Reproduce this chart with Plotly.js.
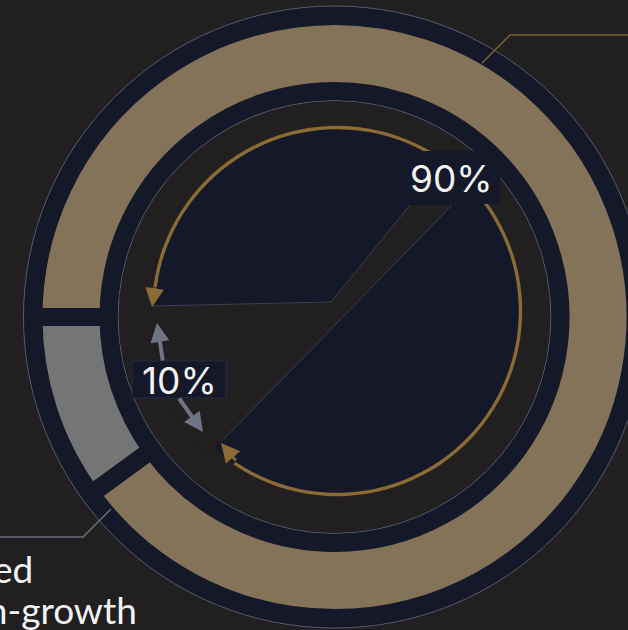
<!DOCTYPE html>
<html>
<head>
<meta charset="utf-8">
<script src="https://cdn.plot.ly/plotly-3.0.1.min.js"></script>
<style>
  html, body { margin: 0; padding: 0; overflow: hidden; background: #211f1f; width: 628px; height: 630px; }
  #chart { width: 700px; height: 700px; }
</style>
</head>
<body>
<div id="chart"></div>
<script>
// ---------- data ----------
const segmentLabels = ['Paid out', 'Reinvested for long-term-growth'];
const segmentValues = [90, 10];
const segmentPctText = ['90%', '10%'];
const leftLabelLines = ['Reinvested', 'for long-term-growth'];

// ---------- styles / geometry (px) ----------
const W = 700, H = 700;
const BG = '#211f1f', NAVY = '#151829', GOLD = '#837358', GREY = '#767576';
const ARC_GOLD = '#8a6b36', ARROW_GREY = '#6f7384', THIN = '#585b6d', WHITE = '#f3f3f3';
const outerC = [334.5, 317];
const innerC = [337, 311];

function dom(c, r) {
  return { x: [(c[0] - r) / W, (c[0] + r) / W], y: [(H - c[1] - r) / H, (H - c[1] + r) / H] };
}
function circ(c, r, fill, line, layer) {
  return { type: 'circle', xref: 'x', yref: 'y', x0: c[0] - r, x1: c[0] + r, y0: c[1] - r, y1: c[1] + r,
           fillcolor: fill, line: line, layer: layer };
}

const arcStart = 277.5, arcEnd = 574;   // compass degrees of the gold arc decoration

const traces = [
  { type: 'scatter', x: [], y: [], hoverinfo: 'skip', showlegend: false },
  { // outer ring
    type: 'pie', labels: segmentLabels, values: segmentValues, sort: false, direction: 'clockwise',
    rotation: 270, hole: 226 / 301, domain: dom(outerC, 301),
    marker: { colors: [GOLD, GREY], line: { color: NAVY, width: 18 } },
    textinfo: 'none', hoverinfo: 'skip', showlegend: false
  },
  { // inner pie
    type: 'pie', labels: segmentLabels, values: segmentValues, sort: false, direction: 'clockwise',
    rotation: 258, domain: dom(innerC, 184),
    marker: { colors: [NAVY, BG], line: { width: 0 } },
    textinfo: 'none', hoverinfo: 'skip', showlegend: false
  },
  { // gold arc around the 90% part
    type: 'pie', labels: ['arc', 'gap'], values: [arcEnd - arcStart, 360 - (arcEnd - arcStart)], sort: false,
    direction: 'clockwise', rotation: arcStart, hole: 181.8 / 185.2, domain: dom(innerC, 185.2),
    marker: { colors: [ARC_GOLD, 'rgba(0,0,0,0)'], line: { width: 0 } },
    textinfo: 'none', hoverinfo: 'skip', showlegend: false
  }
];

const shapes = [
  circ(outerC, 311, NAVY, { color: THIN, width: 1 }, 'below'),
  circ(outerC, 216.5, BG, { color: THIN, width: 1 }, 'below'),
  { type: 'path', xref: 'x', yref: 'y', layer: 'above', fillcolor: BG, line: { width: 0 },
    path: 'M331,302 L410,205 L452,205 L222,441 L205,455 L149,379 L149,306 Z' },
  { type: 'path', xref: 'x', yref: 'y', layer: 'above', line: { color: '#3c3f50', width: 1 },
    path: 'M152,306 L331,302 L410,205' },
  { type: 'path', xref: 'x', yref: 'y', layer: 'above', line: { color: '#3c3f50', width: 1 },
    path: 'M452,205 L222,441' },
  { type: 'rect', xref: 'x', yref: 'y', layer: 'above', x0: 402, x1: 500, y0: 151, y1: 204,
    fillcolor: NAVY, line: { width: 0 } },
  { type: 'rect', xref: 'x', yref: 'y', layer: 'above', x0: 132, x1: 226, y0: 361, y1: 398,
    fillcolor: NAVY, line: { color: '#262a3c', width: 1 } },
  { type: 'path', xref: 'x', yref: 'y', layer: 'above', line: { color: '#7a6232', width: 1.5 },
    path: 'M482,63 L510,35 L700,35' },
  { type: 'path', xref: 'x', yref: 'y', layer: 'above', line: { color: '#6b6e7e', width: 1.5 },
    path: 'M111,509 L83,537 L0,537' }
];

function arrow(tip, tail, color, width, size) {
  return { xref: 'x', yref: 'y', axref: 'x', ayref: 'y', x: tip[0], y: tip[1], ax: tail[0], ay: tail[1],
           text: '', showarrow: true, arrowhead: 2, arrowcolor: color, arrowwidth: width, arrowsize: size,
           standoff: 0, startstandoff: 0 };
}

const pctFont = { family: 'Inter, sans-serif', size: 37, color: WHITE };
const labFont = { family: 'Lato, sans-serif', size: 37, color: WHITE };

const annotations = [
  arrow([152, 307], [155, 286], ARC_GOLD, 3, 1.25),
  arrow([221, 443], [237, 462], ARC_GOLD, 3, 1.25),
  arrow([157, 323], [163, 362], ARROW_GREY, 4, 0.95),
  arrow([203, 432], [178, 397], ARROW_GREY, 4, 0.95),
  { xref: 'x', yref: 'y', x: 451, y: 178, text: segmentPctText[0], showarrow: false, font: pctFont,
    xanchor: 'center', yanchor: 'middle' },
  { xref: 'x', yref: 'y', x: 179, y: 380, text: segmentPctText[1], showarrow: false, font: pctFont,
    xanchor: 'center', yanchor: 'middle' },
  { xref: 'x', yref: 'y', x: 34, y: 568, text: leftLabelLines[0], showarrow: false, font: labFont,
    xanchor: 'right', yanchor: 'middle', borderpad: 0 },
  { xref: 'x', yref: 'y', x: 138, y: 609, text: leftLabelLines[1], showarrow: false, font: labFont,
    xanchor: 'right', yanchor: 'middle', borderpad: 0 }
];

const layout = {
  width: W, height: H, margin: { l: 0, r: 0, t: 0, b: 0 },
  paper_bgcolor: BG, plot_bgcolor: 'rgba(0,0,0,0)', showlegend: false,
  xaxis: { range: [0, W], visible: false, fixedrange: true },
  yaxis: { range: [H, 0], visible: false, fixedrange: true },
  shapes: shapes, annotations: annotations
};

Plotly.newPlot('chart', traces, layout, { staticPlot: true, displayModeBar: false });
</script>
</body>
</html>
